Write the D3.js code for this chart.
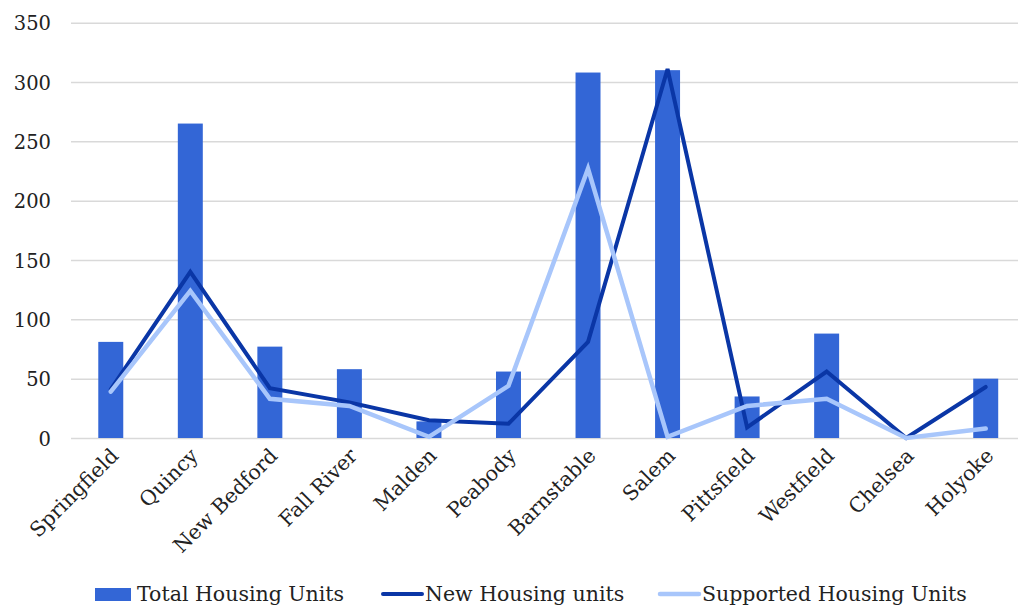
<!DOCTYPE html>
<html>
<head>
<meta charset="utf-8">
<script src="https://cdn.jsdelivr.net/npm/d3@7"></script>
<style>
  html, body { margin: 0; padding: 0; background: #fff; }
  svg { display: block; }
  text { font-family: "DejaVu Serif", "Liberation Serif", serif; fill: #222; }
</style>
</head>
<body>
<svg id="chart" width="1018" height="607"></svg>
<script>
const categories = ["Springfield", "Quincy", "New Bedford", "Fall River", "Malden", "Peabody",
                    "Barnstable", "Salem", "Pittsfield", "Westfield", "Chelsea", "Holyoke"];
const totalUnits = [81, 265, 77, 58, 14, 56, 308, 310, 35, 88, 0, 50];
const newUnits = [41, 140, 42, 30, 15, 12, 81, 311, 9, 56, 0, 43];
const supportedUnits = [39, 124, 33, 27, 1, 44, 227, 1, 27, 33, 0, 8];
const yTicks = [0, 50, 100, 150, 200, 250, 300, 350];
const seriesNames = ["Total Housing Units", "New Housing units", "Supported Housing Units"];

const colors = { bar: "#3366d6", dark: "#0a36a6", light: "#a8c6fb", grid: "#d9d9d9" };

const svg = d3.select("#chart");
const mLeft = 71, mRight = 1025.5, mTop = 22.7, mBottom = 438;

const x = d3.scaleBand().domain(categories).range([mLeft, mRight])
  .paddingInner(0.686).paddingOuter(0.343);
const y = d3.scaleLinear().domain([0, 350]).range([mBottom, mTop]);
const cx = d => x(d) + x.bandwidth() / 2;

// gridlines + y labels
const yAxis = d3.axisLeft(y).tickValues(yTicks).tickSize(-(1018 - mLeft)).tickPadding(20);
const gy = svg.append("g").attr("transform", `translate(${mLeft},0)`).call(yAxis);
gy.select(".domain").remove();
gy.selectAll(".tick line").attr("stroke", colors.grid).attr("stroke-width", 1.5);
gy.selectAll(".tick text").attr("font-size", 19.5).attr("fill", "#222")
  .attr("font-family", "DejaVu Serif, serif").attr("dy", "0.36em");

// bars
svg.append("g").selectAll("rect").data(categories).join("rect")
  .attr("x", d => x(d))
  .attr("width", x.bandwidth())
  .attr("y", (d, i) => y(totalUnits[i]))
  .attr("height", (d, i) => y(0) - y(totalUnits[i]))
  .attr("fill", colors.bar);

// lines
const line = d3.line().x(d => cx(d[0])).y(d => y(d[1]));
svg.append("path")
  .datum(categories.map((c, i) => [c, newUnits[i]]))
  .attr("d", line).attr("fill", "none").attr("stroke", colors.dark)
  .attr("stroke-width", 4).attr("stroke-linecap", "round");
svg.append("path")
  .datum(categories.map((c, i) => [c, supportedUnits[i]]))
  .attr("d", line).attr("fill", "none").attr("stroke", colors.light)
  .attr("stroke-width", 4.5).attr("stroke-linecap", "round");

// x labels
const xAxis = d3.axisBottom(x).tickSize(0).tickPadding(0);
const gx = svg.append("g").attr("transform", `translate(0,${mBottom})`).call(xAxis);
gx.select(".domain").remove();
gx.selectAll(".tick text")
  .attr("font-size", 20.5).attr("fill", "#222").attr("font-family", "DejaVu Serif, serif")
  .attr("text-anchor", "end")
  .attr("dy", null).attr("y", 0)
  .attr("transform", "translate(9,19) rotate(-45)");

// legend
const lg = svg.append("g");
lg.append("rect").attr("x", 95).attr("y", 588).attr("width", 36).attr("height", 13).attr("fill", colors.bar);
lg.append("text").attr("x", 137).attr("y", 601).attr("font-size", 20.5).text(seriesNames[0]);
lg.append("line").attr("x1", 383).attr("x2", 422).attr("y1", 594).attr("y2", 594)
  .attr("stroke", colors.dark).attr("stroke-width", 4).attr("stroke-linecap", "round");
lg.append("text").attr("x", 425).attr("y", 601).attr("font-size", 20.5).text(seriesNames[1]);
lg.append("line").attr("x1", 660).attr("x2", 699).attr("y1", 594).attr("y2", 594)
  .attr("stroke", colors.light).attr("stroke-width", 4.5).attr("stroke-linecap", "round");
lg.append("text").attr("x", 702).attr("y", 601).attr("font-size", 20.5).text(seriesNames[2]);
</script>
</body>
</html>
